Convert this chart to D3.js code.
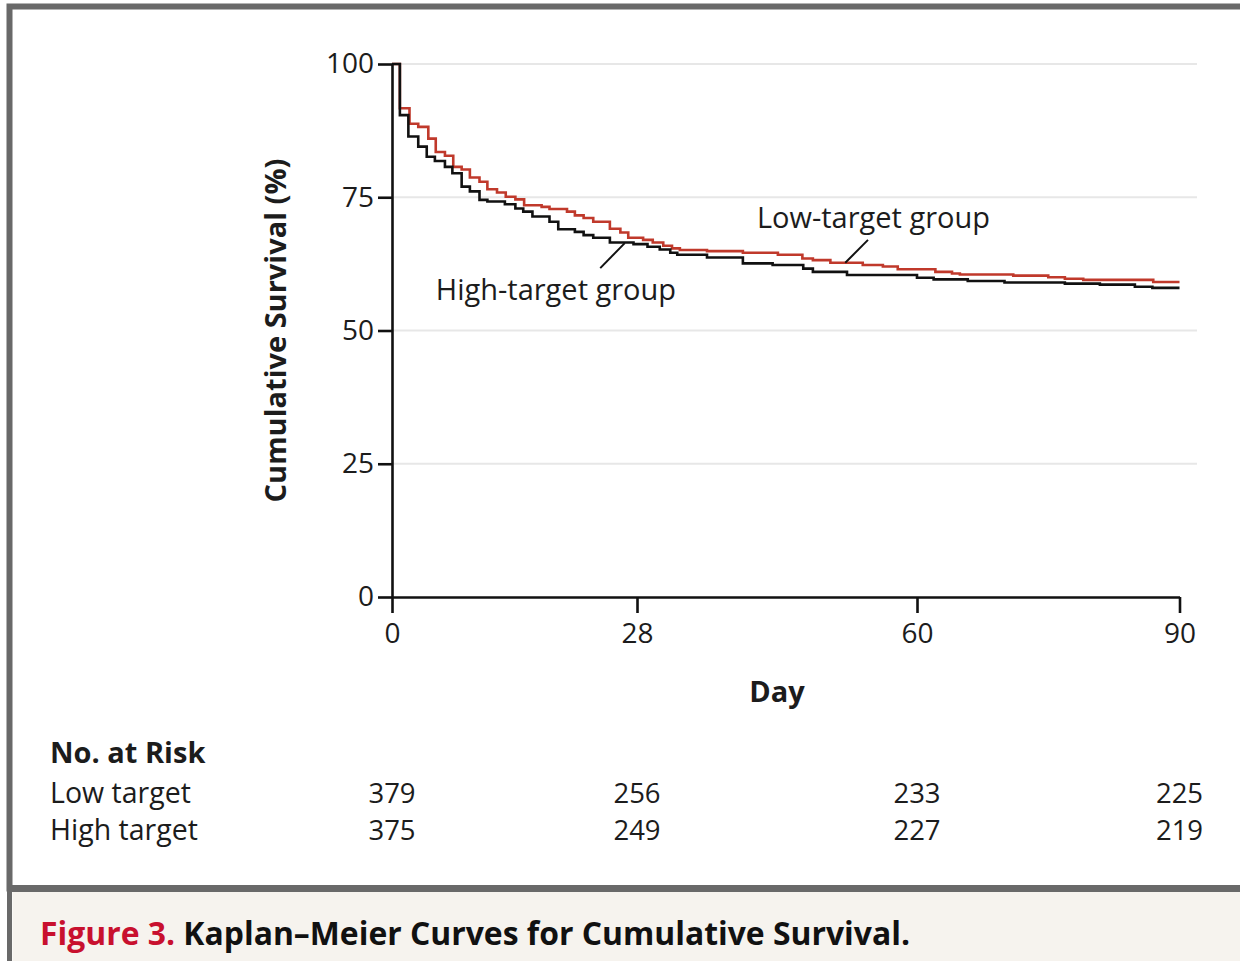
<!DOCTYPE html>
<html>
<head>
<meta charset="utf-8">
<script src="https://cdn.jsdelivr.net/npm/d3@7"></script>
<style>
  html, body { margin: 0; padding: 0; background: #ffffff; }
  svg { display: block; }
  text { font-family: "Open Sans", Lato, "DejaVu Sans", sans-serif; fill: #1c1c1c; }
</style>
</head>
<body>
<svg id="chart" width="1240" height="961"></svg>
<script>
// Kaplan–Meier step points: day at which each level starts, and survival (%)
const lowTargetDays = [0, 0.9, 2.0, 3.0, 4.15, 5.0, 6.05, 7.0, 7.96, 8.9, 10.0, 10.9, 12.0, 13.0, 14.1, 15.1, 17.1, 18.0, 20.0, 20.9, 21.9, 23.0, 24.9, 26.1, 27.0, 28.7, 29.8, 31.0, 32.0, 32.9, 36.0, 40.1, 44.1, 46.9, 48.1, 50.1, 53.8, 56.1, 57.8, 62.1, 64.0, 64.9, 71.0, 75.0, 76.9, 79.0, 87.0, 90];
const lowTargetSurv = [100, 91.7, 88.8, 88.2, 86.0, 83.5, 82.8, 80.7, 80.2, 78.7, 77.9, 76.5, 75.9, 75.1, 74.6, 73.5, 73.2, 72.8, 72.3, 71.6, 71.1, 70.4, 69.1, 68.4, 67.4, 67.0, 66.5, 65.9, 65.4, 65.1, 64.9, 64.6, 64.2, 63.5, 63.2, 62.7, 62.3, 62.0, 61.5, 61.0, 60.7, 60.5, 60.3, 60.0, 59.7, 59.5, 59.1, 59.1];

const highTargetDays = [0, 0.9, 1.87, 3.0, 3.97, 4.9, 6.05, 6.9, 7.96, 8.9, 10.0, 10.9, 12.9, 14.1, 15.0, 16.05, 18.0, 19.0, 20.9, 21.9, 23.0, 24.9, 27.6, 29.2, 30.6, 31.8, 32.6, 36.0, 40.1, 43.5, 47.0, 48.1, 52.0, 60.0, 61.9, 65.8, 70.0, 76.9, 80.9, 84.9, 86.9, 90];
const highTargetSurv = [100, 90.4, 86.4, 84.5, 82.6, 81.8, 80.7, 79.5, 77.0, 76.1, 74.5, 74.2, 73.7, 72.9, 72.3, 71.4, 70.4, 69.0, 68.5, 67.9, 67.4, 66.5, 66.2, 65.7, 65.2, 64.6, 64.2, 63.7, 62.6, 62.3, 61.6, 61.0, 60.4, 59.9, 59.6, 59.3, 59.0, 58.8, 58.6, 58.2, 58.0, 58.0];

// Axis ticks
const xTicks = [0, 28, 60, 90];
const yTicks = [0, 25, 50, 75, 100];

// Number at risk table
const riskDays = [0, 28, 60, 90];
const riskLabels = ["Low target", "High target"];
const riskLow = [379, 256, 233, 225];
const riskHigh = [375, 249, 227, 219];

const svg = d3.select("#chart");

// Frame and caption band
svg.append("rect").attr("x", 9.5).attr("y", 6.5).attr("width", 1260).attr("height", 882)
  .attr("fill", "#ffffff").attr("stroke", "#696969").attr("stroke-width", 6);
svg.append("rect").attr("x", 12.5).attr("y", 892).attr("width", 1240).attr("height", 80)
  .attr("fill", "#f6f3ee");
svg.append("rect").attr("x", 7).attr("y", 885).attr("width", 1240).attr("height", 7).attr("fill", "#696969");
svg.append("rect").attr("x", 7).attr("y", 885).attr("width", 5).attr("height", 80).attr("fill", "#696969");

const x = d3.scaleLinear().domain([0, 90]).range([392, 1179.5]);
const y = d3.scaleLinear().domain([0, 100]).range([597, 64]);

// Gridlines
svg.append("g").selectAll("line").data(yTicks.filter(d => d > 0)).join("line")
  .attr("x1", x(0)).attr("x2", 1197)
  .attr("y1", d => y(d)).attr("y2", d => y(d))
  .attr("stroke", "#e7e7e7").attr("stroke-width", 2.2);

// Survival curves
const line = d3.line().curve(d3.curveStepAfter).x(d => x(d[0])).y(d => y(d[1]));
const lowPts = d3.zip(lowTargetDays, lowTargetSurv);
const highPts = d3.zip(highTargetDays, highTargetSurv);

svg.append("path").datum(lowPts).attr("d", line)
  .attr("fill", "none").attr("stroke", "#c0392b").attr("stroke-width", 2.6);
svg.append("path").datum(highPts).attr("d", line)
  .attr("fill", "none").attr("stroke", "#111111").attr("stroke-width", 2.6);

// Axes
const yAxis = svg.append("g").attr("transform", `translate(${x(0)},0)`)
  .call(d3.axisLeft(y).tickValues(yTicks).tickSize(14).tickSizeOuter(0).tickPadding(4));
const xAxis = svg.append("g").attr("transform", `translate(0,${y(0)})`)
  .call(d3.axisBottom(x).tickValues(xTicks).tickSize(16).tickSizeOuter(0).tickPadding(10));

[yAxis, xAxis].forEach(g => {
  g.select(".domain").attr("stroke", "#111").attr("stroke-width", 2.6);
  g.selectAll(".tick line").attr("stroke", "#111").attr("stroke-width", 2.6);
  g.selectAll(".tick text").attr("font-family", "'Open Sans', sans-serif").attr("font-size", 28).attr("fill", "#1c1c1c");
});

// Axis titles
svg.append("text").attr("x", x(44)).attr("y", 702).attr("text-anchor", "middle")
  .attr("font-size", 29).attr("font-weight", "bold").text("Day");
svg.append("text").attr("transform", `translate(286,${y(50)}) rotate(-90)`).attr("text-anchor", "middle")
  .attr("font-size", 29).attr("font-weight", "bold").text("Cumulative Survival (%)");

// Curve labels with leader lines
svg.append("text").attr("x", x(41.7)).attr("y", y(69.2)).attr("font-size", 29).text("Low-target group");
svg.append("line").attr("x1", x(54.4)).attr("y1", y(67.0)).attr("x2", x(51.8)).attr("y2", y(62.7))
  .attr("stroke", "#111").attr("stroke-width", 2);
svg.append("text").attr("x", x(5.0)).attr("y", y(55.7)).attr("font-size", 29).text("High-target group");
svg.append("line").attr("x1", x(23.8)).attr("y1", y(61.7)).attr("x2", x(26.6)).attr("y2", y(66.4))
  .attr("stroke", "#111").attr("stroke-width", 2);

// Number at risk
svg.append("text").attr("x", 50).attr("y", 763).attr("font-size", 29).attr("font-weight", "bold").text("No. at Risk");
const rowY = [803, 840];
riskLabels.forEach((lab, i) => {
  svg.append("text").attr("x", 50).attr("y", rowY[i]).attr("font-size", 28.5).text(lab);
  const vals = i === 0 ? riskLow : riskHigh;
  svg.append("g").selectAll("text").data(d3.zip(riskDays, vals)).join("text")
    .attr("x", d => x(d[0])).attr("y", rowY[i]).attr("text-anchor", "middle")
    .attr("font-size", 27.5).text(d => d[1]);
});

// Caption
const cap = svg.append("text").attr("x", 40).attr("y", 945).attr("font-size", 32).attr("font-weight", "bold")
  .attr("font-family", "Lato, sans-serif")
  .attr("textLength", 870).attr("lengthAdjust", "spacingAndGlyphs");
cap.append("tspan").attr("fill", "#c8102e").style("fill", "#c8102e").text("Figure 3.");
cap.append("tspan").attr("fill", "#111").style("fill", "#111").text(" Kaplan\u2013Meier Curves for Cumulative Survival.");
</script>
</body>
</html>
